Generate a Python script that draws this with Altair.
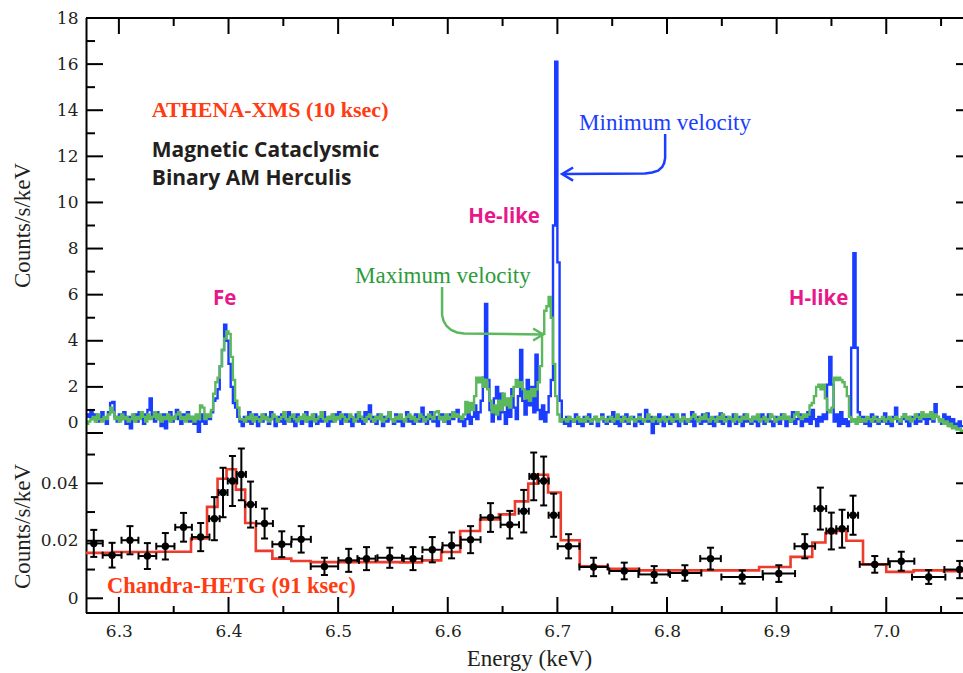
import altair as alt
import pandas as pd

# ---------------- ATHENA-XMS simulated spectra (2 eV bins from 6.270 keV) ----------------
E0 = 6.27
BIN = 0.002

blue_a = [0.8, 0.7, 0.9, 0.6, 0.8, 0.5, 0.7, 0.9, 0.6, 0.4,
          0.9, 1.3, 1.35, 0.7, 0.5, 0.8, 0.6, 0.9, 0.4, 0.7,
          0.2, 0.6, 0.8, 0.5, 0.9, 0.7, 0.4, 0.8, 1.0, 1.5,
          0.7, 0.5, 0.9, 0.6, 0.3, 0.8, 0.2, 0.6, 0.9, 0.5,
          0.7, 1.0, 0.6, 0.4, 0.8, 0.6, 0.9, 0.5, 0.7, 0.4,
          0.6, 0.05, 0.5, 0.8, 0.4, 0.7]
green_a = [0.4, 0.5, 0.6, 0.7, 0.5, 0.8, 0.6, 0.5, 0.7, 0.6,
           0.8, 1.1, 0.9, 0.6, 0.7, 0.5, 0.8, 0.6, 0.7, 0.5,
           0.6, 0.8, 0.5, 0.7, 0.6, 0.9, 0.7, 0.5, 0.8, 0.6,
           0.7, 0.9, 0.6, 0.8, 0.5, 0.7, 0.6, 0.8, 0.5, 0.7,
           0.6, 0.8, 0.9, 0.6, 0.7, 0.5, 0.8, 0.6, 0.7, 0.5,
           0.8, 0.6, 1.2, 1.1, 0.6, 0.8]

blue_fe = [0.6, 0.9, 1.4, 1.5, 1.9, 2.9, 3.6, 4.7, 4.0, 3.0, 2.0, 1.3, 1.1, 0.7, 0.5]
green_fe = [0.7, 1.0, 1.7, 2.2, 2.4, 2.9, 3.6, 4.1, 4.4, 4.3, 3.3, 2.3, 1.4, 1.1, 0.6]

blue_b = [0.3, 0.7, 0.5, 0.9, 0.4, 0.6, 0.8, 0.3, 0.7, 0.5,
          0.8, 0.6, 0.4, 0.9, 0.6, 0.3, 0.7, 0.5, 0.8, 0.4,
          0.6, 0.9, 0.5, 0.7, 0.3, 0.8, 0.6, 0.4, 0.7, 0.9,
          0.5, 0.3, 0.6, 0.8, 0.4, 0.7, 0.5, 0.9, 0.6, 0.3,
          0.7, 0.5, 0.8, 0.6, 0.9, 0.4, 0.6, 0.8, 0.5, 0.7,
          0.3, 0.6, 0.8, 0.5, 0.7, 0.4, 0.9, 0.6, 1.2, 0.5,
          0.7, 0.4, 0.8, 0.6, 0.3, 0.7, 0.5, 0.9, 0.6, 0.4,
          0.8, 0.5, 0.7, 0.3, 0.6, 0.9, 0.5, 0.7, 0.4, 0.8,
          0.6, 0.5, 1.1, 0.7, 0.4, 0.6, 0.9, 0.5, 0.7, 0.3,
          0.6, 0.8, 0.5, 0.7, 0.4, 0.8, 0.6, 0.9, 1.0]
green_b = [0.6, 0.5, 0.7, 0.6, 0.8, 0.5, 0.7, 0.6, 0.5, 0.8,
           0.6, 0.7, 0.5, 0.6, 0.8, 0.7, 0.5, 0.6, 0.7, 0.9,
           0.6, 0.5, 0.7, 0.8, 0.6, 0.5, 0.7, 0.6, 0.8, 0.5,
           0.7, 0.6, 0.8, 0.5, 0.6, 0.7, 0.9, 0.6, 0.5, 0.7,
           0.6, 0.8, 0.5, 0.7, 0.6, 0.8, 0.7, 0.5, 0.6, 0.8,
           0.7, 0.5, 0.6, 0.9, 0.7, 0.6, 0.5, 0.7, 0.8, 0.6,
           0.5, 0.7, 0.6, 0.8, 0.5, 0.6, 0.7, 0.9, 0.6, 0.5,
           0.7, 0.6, 0.8, 0.6, 0.5, 0.7, 0.8, 0.6, 0.7, 0.5,
           0.6, 0.8, 0.7, 0.5, 0.6, 0.8, 0.7, 0.6, 0.9, 0.95,
           0.6, 0.7, 0.5, 0.8, 0.6, 0.7, 0.9, 0.7, 0.8]

blue_he = [0.5, 0.7, 0.3, 0.6, 0.9, 0.4, 0.7, 1.2, 0.6, 0.9,
           1.4, 2.4, 5.6, 2.3, 1.0, 0.5, 1.5, 2.0, 0.6, 1.7,
           0.9, 0.4, 1.2, 0.7, 1.9, 1.1, 0.6, 1.6, 3.6, 1.4,
           0.8, 2.3, 1.2, 2.0, 0.9, 3.4, 1.0, 0.6, 1.2, 0.5,
           0.9, 1.6, 2.3, 9.0, 16.1, 7.4, 1.4, 0.5]
green_he = [0.7, 0.6, 0.8, 1.35, 0.9, 1.3, 1.0, 1.6, 2.4, 2.2,
            2.4, 2.0, 2.3, 1.9, 1.4, 0.9, 1.2, 0.8, 1.4, 1.0,
            1.7, 1.2, 1.5, 1.1, 1.6, 2.0, 2.3, 2.0, 2.2, 1.9,
            1.5, 1.8, 1.4, 1.9, 1.6, 1.9, 2.2, 2.9, 4.3, 5.3,
            5.5, 5.9, 5.0, 3.0, 1.6, 0.8, 0.5, 0.6]

blue_c = [0.4, 0.7, 0.3, 0.6, 0.5, 0.8, 0.4, 0.6, 0.3, 0.7,
          0.5, 0.8, 0.4, 0.6, 0.7, 0.3, 0.6, 0.8, 0.5, 0.4,
          0.7, 0.5, 0.9, 0.4, 0.6, 0.3, 0.7, 0.5, 0.8, 0.4,
          0.6, 0.7, 0.3, 0.5, 0.8, 0.4, 0.6, 1.0, 0.5, 0.7,
          0.0, 0.6, 0.4, 0.8, 0.5, 0.3, 0.7, 0.6, 0.4, 0.8,
          0.5, 0.7, 0.3, 0.6, 0.8, 0.4, 0.6, 0.5, 0.9, 0.3,
          0.6, 0.7, 0.4, 0.8, 0.5, 0.85, 0.4, 0.6, 0.3, 0.7,
          0.5, 0.85, 0.4, 0.6, 0.7, 0.3, 0.6, 0.8, 0.4, 0.5,
          0.7, 0.3, 0.8, 0.5, 0.6, 0.4, 0.7, 0.5, 0.3, 0.6,
          0.8, 0.4, 0.6, 0.8, 0.5, 0.3, 0.7, 0.5, 0.4, 0.8,
          0.6, 0.3, 0.7, 0.5, 0.9, 0.4, 0.6, 0.8, 0.3, 0.6]
green_c = [0.6, 0.5, 0.7, 0.6, 0.5, 0.6, 0.7, 0.5, 0.6, 0.5,
           0.7, 0.6, 0.5, 0.6, 0.7, 0.5, 0.6, 0.7, 0.6, 0.5,
           0.6, 0.7, 0.5, 0.6, 0.8, 0.6, 0.5, 0.7, 0.6, 0.5,
           0.7, 0.6, 0.5, 0.6, 0.7, 0.6, 0.5, 0.6, 0.8, 0.6,
           0.5, 0.7, 0.6, 0.5, 0.6, 0.7, 0.5, 0.6, 0.7, 0.5,
           0.6, 0.8, 0.6, 0.5, 0.7, 0.6, 0.5, 0.6, 0.7, 0.8,
           0.6, 0.5, 0.7, 0.6, 0.8, 0.6, 0.5, 0.7, 0.6, 0.5,
           0.7, 0.6, 0.8, 0.5, 0.6, 0.7, 0.6, 0.5, 0.8, 0.6,
           0.5, 0.7, 0.6, 0.8, 0.6, 0.5, 0.7, 0.6, 0.8, 0.5,
           0.6, 0.7, 0.5, 0.6, 0.8, 0.7, 0.5, 0.6, 0.7, 0.6,
           0.8, 0.6, 0.7, 0.5, 0.6, 0.8, 0.9, 0.7, 0.6, 0.8]

blue_h = [0.5, 0.9, 0.4, 1.0, 0.6, 0.3, 0.7, 0.5, 0.8, 0.6,
          2.1, 3.3, 2.1, 0.5, 0.8, 0.3, 0.9, 0.4, 0.6, 0.3,
          0.5, 3.7, 7.8, 3.7, 0.9, 0.5]
green_h = [0.7, 0.8, 1.2, 1.3, 1.6, 2.0, 2.1, 1.9, 2.1, 1.5,
           1.0, 0.9, 1.1, 2.4, 2.3, 2.4, 2.3, 2.2, 2.0, 1.6,
           0.7, 0.5, 0.6, 0.4, 0.7, 0.5]

blue_e = [0.7, 0.4, 0.6, 0.3, 0.8, 0.5, 0.7, 0.4, 0.6, 0.5,
          0.85, 0.4, 0.6, 0.3, 0.7, 1.1, 0.5, 0.4, 0.6, 0.8,
          0.5, 0.3, 0.7, 0.6, 0.4, 0.8, 0.5, 0.6, 0.7, 0.4,
          0.6, 0.8, 0.5, 1.25, 0.7, 0.6, 0.4, 0.8, 0.5, 0.7,
          0.3, 0.6, 0.4, 0.2, 0.5, 0.3]
green_e = [0.6, 0.5, 0.7, 0.6, 0.5, 0.7, 0.6, 0.5, 0.6, 0.7,
           0.5, 0.6, 0.7, 0.5, 0.6, 0.7, 0.6, 0.5, 0.7, 0.8,
           0.6, 0.7, 0.5, 0.6, 0.8, 0.7, 0.6, 0.9, 0.7, 0.8,
           0.7, 0.9, 0.6, 0.8, 0.7, 0.5, 0.6, 0.4, 0.5, 0.3,
           0.4, 0.2, 0.3, 0.15, 0.2, 0.1]

blue = blue_a + blue_fe + blue_b + blue_he + blue_c + blue_h + blue_e
green = green_a + green_fe + green_b + green_he + green_c + green_h + green_e

# ---------------- Chandra-HETG data points ----------------
pt_energy = [6.2771, 6.2938, 6.3101, 6.3260, 6.3424, 6.3590, 6.3746, 6.3871, 6.3950, 6.4036,
             6.4117, 6.4201, 6.4329, 6.4486, 6.4663, 6.4875, 6.5096, 6.5259, 6.5471, 6.5683,
             6.5859, 6.6035, 6.6208, 6.6390, 6.6566, 6.6693, 6.6784, 6.6875, 6.6966, 6.7102,
             6.7330, 6.7610, 6.7883, 6.8163, 6.8397, 6.8686, 6.9020, 6.9257, 6.9399, 6.9499,
             6.9597, 6.9697, 6.9895, 7.0137, 7.0387, 7.0670]
pt_xerr = [0.0082, 0.0086, 0.0077, 0.0081, 0.0083, 0.0076, 0.0080, 0.0048, 0.0041, 0.0043,
           0.0042, 0.0049, 0.0076, 0.0086, 0.0088, 0.0125, 0.0094, 0.0083, 0.0112, 0.0084,
           0.0090, 0.0083, 0.0091, 0.0091, 0.0084, 0.0046, 0.0040, 0.0046, 0.0046, 0.0099,
           0.0129, 0.0137, 0.0144, 0.0150, 0.0094, 0.0190, 0.0148, 0.0094, 0.0053, 0.0046,
           0.0053, 0.0046, 0.0137, 0.0119, 0.0152, 0.0140]
pt_value = [0.0191, 0.0150, 0.0202, 0.0147, 0.0181, 0.0247, 0.0213, 0.0277, 0.0368, 0.0408,
            0.0431, 0.0326, 0.0260, 0.0188, 0.0205, 0.0111, 0.0132, 0.0138, 0.0141, 0.0138,
            0.0169, 0.0184, 0.0204, 0.0281, 0.0256, 0.0303, 0.0424, 0.0408, 0.0289, 0.0181,
            0.0109, 0.0095, 0.0083, 0.0088, 0.0138, 0.0074, 0.0086, 0.0181, 0.0312, 0.0234,
            0.0242, 0.0289, 0.0118, 0.0129, 0.0074, 0.0100]
pt_yerr = [0.0047, 0.0043, 0.0049, 0.0045, 0.0046, 0.0050, 0.0049, 0.0075, 0.0086, 0.0087,
           0.0090, 0.0080, 0.0052, 0.0045, 0.0046, 0.0030, 0.0040, 0.0040, 0.0035, 0.0040,
           0.0044, 0.0045, 0.0047, 0.0050, 0.0048, 0.0074, 0.0083, 0.0085, 0.0075, 0.0042,
           0.0032, 0.0029, 0.0029, 0.0027, 0.0038, 0.0023, 0.0029, 0.0042, 0.0073, 0.0064,
           0.0066, 0.0068, 0.0029, 0.0033, 0.0024, 0.0030]

# ---------------- Chandra model (histogram) ----------------
model_edges = [6.262, 6.2945, 6.334, 6.3658, 6.3804, 6.39, 6.3982, 6.4067, 6.4152, 6.4249,
               6.44, 6.4573, 6.4749, 6.5567, 6.5764, 6.594, 6.6113, 6.6295, 6.6467, 6.6613,
               6.6734, 6.6818, 6.6915, 6.7031, 6.7204, 6.7461, 6.7734, 6.884, 6.9127, 6.9325,
               6.9445, 6.9536, 6.9636, 6.9788, 7.0, 7.0249, 7.0522, 7.075]
model_values = [0.0158, 0.0161, 0.0162, 0.0208, 0.0318, 0.0416, 0.0449, 0.0378, 0.0262, 0.0165,
                0.0138, 0.0130, 0.0126, 0.0125, 0.0132, 0.0161, 0.0234, 0.0274, 0.0292, 0.0337,
                0.0399, 0.0430, 0.0368, 0.0202, 0.0111, 0.0103, 0.0097, 0.0109, 0.0144, 0.0194,
                0.0227, 0.0234, 0.0200, 0.0118, 0.0092, 0.0097, 0.0094]

# ---------------- ticks ----------------
x_major = [6.3, 6.4, 6.5, 6.6, 6.7, 6.8, 6.9, 7.0]
x_minor = [6.35, 6.45, 6.55, 6.65, 6.75, 6.85, 6.95, 7.05]
top_major = [0, 2, 4, 6, 8, 10, 12, 14, 16, 18]
top_minor = [1, 3, 5, 7, 9, 11, 13, 15, 17]
bot_major = [0, 0.02, 0.04]
bot_minor = [0.01, 0.03, 0.05]

# ---------------- annotation arrows (data coordinates) ----------------
arrow_min_E = [6.7983, 6.7983, 6.7974, 6.7956, 6.7919, 6.7864, 6.7800, 6.7052]
arrow_min_C = [12.97, 11.93, 11.71, 11.54, 11.38, 11.30, 11.26, 11.23]
arrow_max_E = [6.5948, 6.5948, 6.5962, 6.5989, 6.6030, 6.6085, 6.6149, 6.6852]
arrow_max_C = [6.33, 5.12, 4.86, 4.64, 4.47, 4.36, 4.32, 4.27]

BLUE = "#1a3dff"
GREEN = "#5cb85c"
GREEN_TXT = "#2e9b3a"
RED_LINE = "#ef3b2c"
RED_TXT = "#ff3b12"
MAGENTA = "#e8178a"
DARK = "#231f20"
SERIF = "Liberation Serif"
NUMF = "DejaVu Serif"
SANS = "Open Sans"

W, H = 877, 595

XS = alt.Scale(domain=[6.27, 7.07], nice=False, zero=False)
YT = alt.Scale(domain=[0, 18], range=[415, 0], nice=False, zero=False)
YB = alt.Scale(domain=[0, 0.04], range=[580.3, 465.3], nice=False, zero=False)

XA = alt.Axis(values=x_major, format=".1f", orient="bottom", domain=False, ticks=False, tickSize=0,
              grid=False, labelPadding=10, labelFont=NUMF, labelFontSize=17, labelColor=DARK,
              title="Energy (keV)", titleFont=SERIF, titleFontSize=23, titleFontWeight="normal",
              titleColor=DARK, titleX=443, titleY=52, titleBaseline="alphabetic")
YTA = alt.Axis(values=top_major, orient="left", domain=False, ticks=False, tickSize=0, grid=False,
               labelPadding=8, labelFont=NUMF, labelFontSize=17, labelColor=DARK,
               labelOffset={"condition": {"test": "datum.value === 0", "value": -11}, "value": 0},
               title="Counts/s/keV", titleFont=SERIF, titleFontSize=23, titleFontWeight="normal",
               titleColor=DARK, titleX=-57, titleY=207, titleBaseline="alphabetic")
YBA = alt.Axis(values=bot_major, orient="left", domain=False, ticks=False, tickSize=0, grid=False,
               labelPadding=8, labelFont=NUMF, labelFontSize=17, labelColor=DARK,
               labelExpr="datum.value === 0 ? '0' : format(datum.value, '.2f')",
               title="Counts/s/keV", titleFont=SERIF, titleFontSize=23, titleFontWeight="normal",
               titleColor=DARK, titleX=-57, titleY=508, titleBaseline="alphabetic")


def X(f):
    return alt.X(f, scale=XS, axis=XA)


def YTop(f):
    return alt.Y(f, scale=YT, axis=YTA)


def YBot(f):
    return alt.Y(f, scale=YB, axis=YBA)


def step_df(vals):
    xs = [round(E0 + BIN * i, 4) for i in range(len(vals) + 1)]
    return pd.DataFrame({"E": xs, "C": vals + [vals[-1]]})


one = pd.DataFrame({"a": [0]})

# ---------- top panel ----------
blue_line = alt.Chart(step_df(blue)).mark_line(interpolate="step-after", color=BLUE, strokeWidth=2.4,
                                                clip=True).encode(x=X("E:Q"), y=YTop("C:Q"))
green_line = alt.Chart(step_df(green)).mark_line(interpolate="step-after", color=GREEN, strokeWidth=2.4,
                                                  clip=True).encode(x=X("E:Q"), y=YTop("C:Q"))

arr_min = pd.DataFrame({"E": arrow_min_E, "C": arrow_min_C, "k": list(range(len(arrow_min_E)))})
arr_max = pd.DataFrame({"E": arrow_max_E, "C": arrow_max_C, "k": list(range(len(arrow_max_E)))})
arrow_min_line = alt.Chart(arr_min).mark_line(color=BLUE, strokeWidth=2.5).encode(
    x=X("E:Q"), y=YTop("C:Q"), order="k:Q")
arrow_max_line = alt.Chart(arr_max).mark_line(color=GREEN, strokeWidth=2.5).encode(
    x=X("E:Q"), y=YTop("C:Q"), order="k:Q")
head_min = alt.Chart(pd.DataFrame({"E": [6.7043], "C": [11.23]})).mark_point(
    shape="M1,-0.6L0,0L1,0.6", size=484, filled=False, stroke=BLUE, strokeWidth=2.5, opacity=1
).encode(x=X("E:Q"), y=YTop("C:Q"))
head_max = alt.Chart(pd.DataFrame({"E": [6.687], "C": [4.27]})).mark_point(
    shape="M-1,-0.6L0,0L-1,0.6", size=400, filled=False, stroke=GREEN, strokeWidth=2.5, opacity=1
).encode(x=X("E:Q"), y=YTop("C:Q"))

athena = alt.Chart(pd.DataFrame({"E": [6.33], "C": [13.70], "t": ["ATHENA-XMS (10 ksec)"]})).mark_text(
    font=SERIF, fontSize=22, fontWeight="bold", color=RED_TXT, align="left", baseline="alphabetic"
).encode(x=X("E:Q"), y=YTop("C:Q"), text="t:N")
mcb = alt.Chart(pd.DataFrame({"E": [6.33, 6.33], "C": [11.97, 10.75],
                              "t": ["Magnetic Cataclysmic", "Binary AM Herculis"]})).mark_text(
    font=SANS, fontSize=21, fontWeight="bold", color=DARK, align="left", baseline="alphabetic"
).encode(x=X("E:Q"), y=YTop("C:Q"), text="t:N")
ions = alt.Chart(pd.DataFrame({"E": [6.3964, 6.6514, 6.9382], "C": [5.55, 9.11, 5.55],
                               "t": ["Fe", "He-like", "H-like"]})).mark_text(
    font=SANS, fontSize=20.5, fontWeight="bold", color=MAGENTA, align="center", baseline="alphabetic"
).encode(x=X("E:Q"), y=YTop("C:Q"), text="t:N")
minv = alt.Chart(pd.DataFrame({"E": [6.7198], "C": [13.14], "t": ["Minimum velocity"]})).mark_text(
    font=SERIF, fontSize=23, color=BLUE, align="left", baseline="alphabetic"
).encode(x=X("E:Q"), y=YTop("C:Q"), text="t:N")
maxv = alt.Chart(pd.DataFrame({"E": [6.5154], "C": [6.50], "t": ["Maximum velocity"]})).mark_text(
    font=SERIF, fontSize=23, color=GREEN_TXT, align="left", baseline="alphabetic"
).encode(x=X("E:Q"), y=YTop("C:Q"), text="t:N")


def yticks(vals, yfun, x1, x2):
    return alt.Chart(pd.DataFrame({"v": vals})).mark_rule(color="black", strokeWidth=2).encode(
        y=yfun("v:Q"), x=alt.value(x1), x2=alt.value(x2))


def xticks(vals, y1, y2):
    return alt.Chart(pd.DataFrame({"v": vals})).mark_rule(color="black", strokeWidth=2).encode(
        x=X("v:Q"), y=alt.value(y1), y2=alt.value(y2))


frame_top = alt.Chart(one).mark_rule(color="black", strokeWidth=2).encode(
    x=alt.value(0), x2=alt.value(W), y=alt.value(0))
frame_left = alt.Chart(one).mark_rule(color="black", strokeWidth=2).encode(
    x=alt.value(0.5), y=alt.value(0), y2=alt.value(H))
frame_bottom = alt.Chart(one).mark_rule(color="black", strokeWidth=2).encode(
    x=alt.value(0), x2=alt.value(W), y=alt.value(H))

top = alt.layer(
    blue_line, green_line, arrow_min_line, arrow_max_line, head_min, head_max,
    athena, mcb, ions, minv, maxv,
    yticks(top_major, YTop, 0, 17), yticks(top_minor, YTop, 0, 9), yticks(top_major[:-1], YTop, W - 7, W),
    xticks(x_major, 0, 16), xticks(x_minor, 0, 8),
    xticks(x_major, H - 16, H), xticks(x_minor, H - 7, H),
    frame_top, frame_left, frame_bottom,
)

# ---------- bottom panel ----------
mdf = pd.DataFrame({"E": model_edges, "V": model_values + [model_values[-1]]})
model_line = alt.Chart(mdf).mark_line(interpolate="step-after", color=RED_LINE, strokeWidth=2.6,
                                      clip=True).encode(x=X("E:Q"), y=YBot("V:Q"))

pts = pd.DataFrame({"E": pt_energy, "V": pt_value})
pts["xlo"] = [e - d for e, d in zip(pt_energy, pt_xerr)]
pts["xhi"] = [e + d for e, d in zip(pt_energy, pt_xerr)]
pts["ylo"] = [v - d for v, d in zip(pt_value, pt_yerr)]
pts["yhi"] = [v + d for v, d in zip(pt_value, pt_yerr)]

xbar = alt.Chart(pts).mark_rule(color="black", strokeWidth=2, clip=True).encode(
    x=X("xlo:Q"), x2="xhi:Q", y=YBot("V:Q"))
ybar = alt.Chart(pts).mark_rule(color="black", strokeWidth=2, clip=True).encode(
    x=X("E:Q"), y=YBot("ylo:Q"), y2="yhi:Q")
capy = pd.DataFrame({"E": pt_energy + pt_energy, "V": list(pts["ylo"]) + list(pts["yhi"])})
capx = pd.DataFrame({"E": list(pts["xlo"]) + list(pts["xhi"]), "V": pt_value + pt_value})
ycaps = alt.Chart(capy).mark_tick(orient="horizontal", size=7, thickness=2, color="black",
                                  opacity=1, clip=True).encode(x=X("E:Q"), y=YBot("V:Q"))
xcaps = alt.Chart(capx).mark_tick(orient="vertical", size=7, thickness=2, color="black",
                                  opacity=1, clip=True).encode(x=X("E:Q"), y=YBot("V:Q"))
dots = alt.Chart(pts).mark_circle(size=55, color="black", opacity=1, clip=True).encode(
    x=X("E:Q"), y=YBot("V:Q"))
chandra = alt.Chart(pd.DataFrame({"E": [6.2892], "V": [0.0018], "t": ["Chandra-HETG (91 ksec)"]})).mark_text(
    font=SERIF, fontSize=22.5, fontWeight="bold", color=RED_TXT, align="left", baseline="alphabetic"
).encode(x=X("E:Q"), y=YBot("V:Q"), text="t:N")

bottom = alt.layer(
    model_line, xbar, ybar, ycaps, xcaps, dots, chandra,
    yticks(bot_major, YBot, 0, 17), yticks(bot_minor, YBot, 0, 9), yticks(bot_major, YBot, W - 7, W),
)

chart = alt.layer(top, bottom).resolve_scale(y="independent").properties(
    width=W, height=H,
    autosize=alt.AutoSizeParams(type="none"),
    padding={"left": 86, "top": 18, "right": 0, "bottom": 60},
    background="white",
).configure_view(strokeWidth=0)

chart.save("out.html", embed_options={"renderer": "svg", "actions": False})
